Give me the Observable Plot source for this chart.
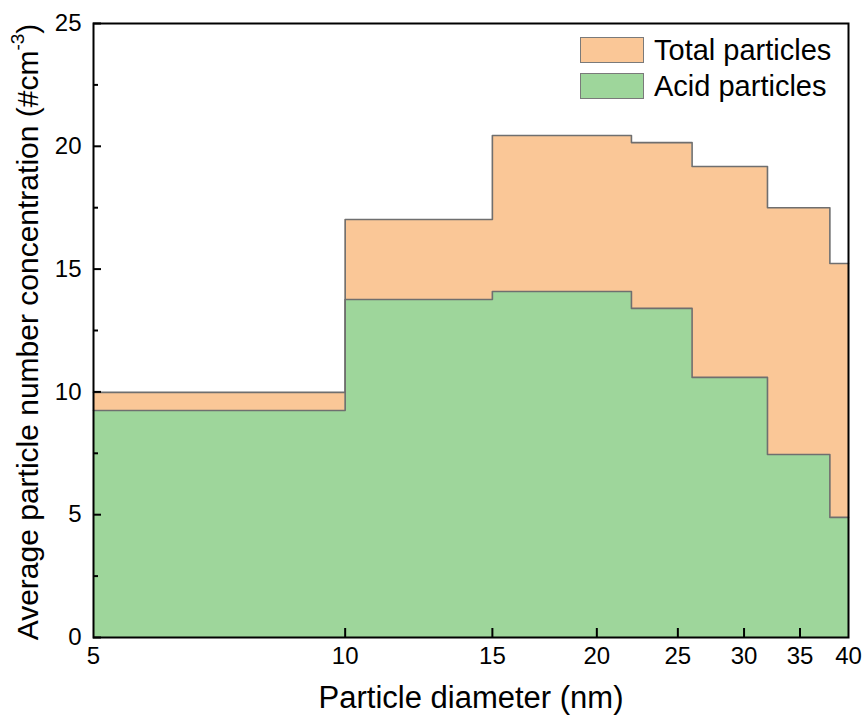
<!DOCTYPE html>
<html><head><meta charset="utf-8">
<script src="https://cdn.jsdelivr.net/npm/d3@7"></script>
<script src="https://cdn.jsdelivr.net/npm/@observablehq/plot@0.6"></script>
<style>
body{margin:0;background:#fff}
#wrap{position:relative;width:867px;height:727px;font-family:"Liberation Sans",Arial,sans-serif}
.leg{position:absolute;left:580px;font-size:29px;color:#000;display:flex;align-items:center;height:26px}
.sw{width:62px;height:24px;border:1.5px solid #7a7a7a;margin-right:10px;box-sizing:content-box}
</style>
</head><body><div id="wrap"></div>
<script>
// Data
const binEdges = [5, 10, 15, 22, 26, 32, 38, 40];
const totalParticles = [9.98, 17.02, 20.44, 20.15, 19.18, 17.5, 15.23];
const acidParticles = [9.24, 13.76, 14.09, 13.4, 10.59, 7.45, 4.89];
const seriesNames = ["Total particles", "Acid particles"];
const seriesColors = ["#fac797", "#9ed69b"];
const xTicks = [5, 10, 15, 20, 25, 30, 35, 40];
const xInnerTicks = [10, 15, 20, 25, 30, 35];
const yTicks = [0, 5, 10, 15, 20, 25];
const yMinorTicks = [2.5, 7.5, 12.5, 17.5, 22.5];

function stepPoints(vals) {
  const pts = vals.map((v, i) => ({x: binEdges[i], y: v}));
  pts.push({x: binEdges[binEdges.length - 1], y: vals[vals.length - 1]});
  return pts;
}
const totalPts = stepPoints(totalParticles);
const acidPts = stepPoints(acidParticles);

const W = 867, H = 727, mL = 93, mR = 19, mT = 23, mB = 90;
const innerW = W - mL - mR, innerH = H - mT - mB;
const font = '"Liberation Sans", Arial, sans-serif';

const chart = Plot.plot({
  width: W, height: H,
  marginLeft: mL, marginRight: mR, marginTop: mT, marginBottom: mB,
  style: {fontFamily: font, fontSize: "24px", color: "#000", background: "#fff"},
  x: {type: "log", domain: [5, 40], axis: null},
  y: {domain: [0, 25], axis: null},
  marks: [
    Plot.areaY(totalPts, {x: "x", y: "y", curve: "step-after", fill: seriesColors[0]}),
    Plot.areaY(acidPts, {x: "x", y: "y", curve: "step-after", fill: seriesColors[1]}),
    Plot.line(totalPts, {x: "x", y: "y", curve: "step-after", stroke: "#6f6f6f", strokeWidth: 1.6}),
    Plot.line(acidPts, {x: "x", y: "y", curve: "step-after", stroke: "#6f6f6f", strokeWidth: 1.6}),
    Plot.text(xTicks, {x: d => d, text: d => String(d), frameAnchor: "bottom", dy: 26, fontSize: 24, fill: "#000"}),
    Plot.tickX(xInnerTicks, {x: d => d, stroke: "#000", strokeWidth: 2, insetTop: innerH - 9}),
    Plot.text(yTicks, {y: d => d, text: d => String(d), frameAnchor: "left", dx: -12, textAnchor: "end", fontSize: 24, fill: "#000"}),
    Plot.tickY(yTicks, {y: d => d, stroke: "#000", strokeWidth: 2, insetRight: innerW - 8}),
    Plot.tickY(yMinorTicks, {y: d => d, stroke: "#000", strokeWidth: 2, insetRight: innerW - 5}),
    Plot.frame({stroke: "#000", strokeWidth: 2}),
    Plot.text(["Particle diameter (nm)"], {text: d => d, frameAnchor: "bottom", dy: 70, fontSize: 31, fill: "#000"})
  ]
});
document.getElementById("wrap").appendChild(chart);

// y-axis title with superscript
const svg = d3.select(chart);
const yl = svg.append("text")
  .attr("transform", `translate(30,${mT + innerH / 2 + 2}) rotate(-90)`)
  .attr("text-anchor", "middle")
  .attr("dominant-baseline", "middle")
  .attr("font-family", font)
  .attr("font-size", 30)
  .attr("fill", "#000");
yl.append("tspan").text("Average particle number concentration (#cm");
yl.append("tspan").attr("font-size", 19).attr("dy", -11).text("-3");
yl.append("tspan").attr("dy", 11).text(")");

// legend
const wrap = document.getElementById("wrap");
seriesNames.forEach((name, i) => {
  const row = document.createElement("div");
  row.className = "leg";
  row.style.top = (37 + i * 36) + "px";
  const sw = document.createElement("div");
  sw.className = "sw";
  sw.style.background = seriesColors[i];
  const t = document.createElement("span");
  t.textContent = name;
  row.appendChild(sw); row.appendChild(t);
  wrap.appendChild(row);
});
</script>
</body></html>
